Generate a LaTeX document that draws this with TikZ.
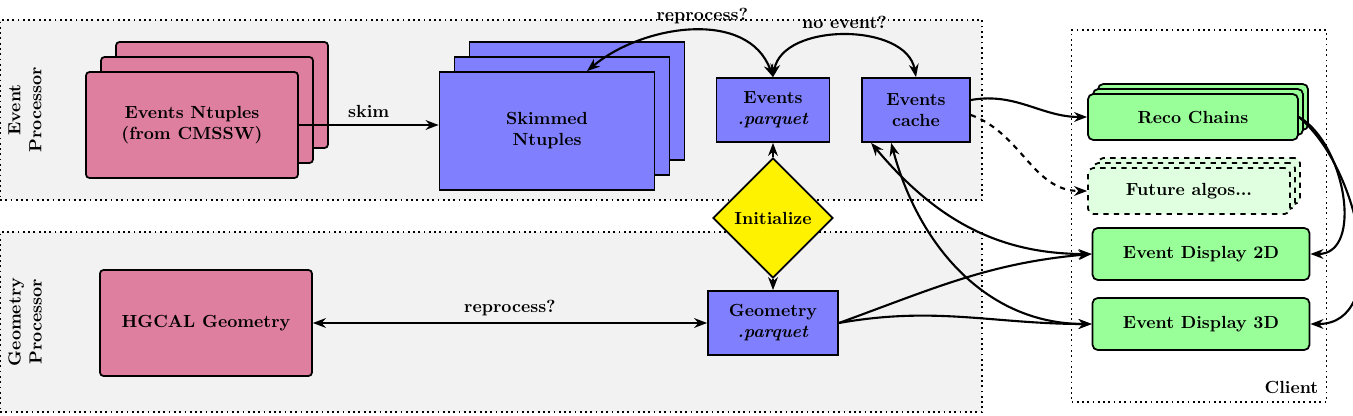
\documentclass[tikz,border=0pt]{standalone}
\usepackage{tikz}
\usetikzlibrary{arrows.meta, positioning, shapes.geometric, shadows}
\definecolor{pinkbox}{HTML}{DF7F9F}
\definecolor{bluebox}{HTML}{8080FF}
\definecolor{greenbox}{HTML}{99FF99}
\definecolor{greenlight}{HTML}{E0FFE0}
\definecolor{areagray}{HTML}{F2F2F2}
\begin{document}
\begin{tikzpicture}[
    >={Stealth[length=2.6mm]}, line width=1pt,
    area/.style={draw, dotted, fill=areagray},
    source/.style={draw, rounded corners=2pt, fill=pinkbox, font=\bfseries, align=center},
    data/.style={draw, fill=bluebox, font=\bfseries, align=center},
    client/.style={draw, rounded corners=3pt, fill=greenbox, font=\bfseries, align=center},
    link/.style={->, line width=1.2pt}
]
\useasboundingbox (0,0) rectangle (27.06,-8.32);

% areas
\node[area, minimum width=19.64cm, minimum height=3.6cm] (evarea) at (9.82,-2.2) {};
\node[area, minimum width=19.64cm, minimum height=3.6cm] (geoarea) at (9.82,-6.44) {};
\node[area, fill=white, minimum width=5.1cm, minimum height=7.44cm] (clarea) at (23.98,-4.32) {};
\node[rotate=90, font=\bfseries, align=center] (evlabel) at (0.5,-2.2) {Event\\Processor};
\node[rotate=90, font=\bfseries, align=center] (geolabel) at (0.5,-6.44) {Geometry\\Processor};
\node[font=\bfseries, anchor=south east] (cllabel) at (26.5,-8.0) {Client};

% event processor
\node[source, minimum width=4.24cm, minimum height=2.12cm,
      double copy shadow={shadow xshift=0.3cm, shadow yshift=0.3cm, fill=pinkbox, draw}]
      (ntuples) at (3.84,-2.5) {Events Ntuples\\(from CMSSW)};
\node[data, minimum width=4.3cm, minimum height=2.36cm,
      double copy shadow={shadow xshift=0.3cm, shadow yshift=0.3cm, fill=bluebox, draw}]
      (skimmed) at (10.94,-2.62) {Skimmed\\Ntuples};
\node[data, minimum width=2.26cm, minimum height=1.28cm] (evparquet) at (15.46,-2.2) {Events\\\textit{.parquet}};
\node[data, minimum width=2.16cm, minimum height=1.28cm] (evcache) at (18.32,-2.2) {Events\\cache};
\node[diamond, draw, fill=yellow, font=\bfseries, inner sep=1pt, minimum size=2.4cm] (init) at (15.46,-4.36) {Initialize};

% geometry processor
\node[source, minimum width=4.24cm, minimum height=2.12cm] (hgcal) at (4.12,-6.46) {HGCAL Geometry};
\node[data, minimum width=2.6cm, minimum height=1.28cm] (geoparquet) at (15.46,-6.46) {Geometry\\\textit{.parquet}};

% client
\node[client, minimum width=4.2cm, minimum height=0.92cm,
      double copy shadow={shadow xshift=0.1cm, shadow yshift=0.1cm, fill=greenbox, draw}]
      (reco) at (23.86,-2.34) {Reco Chains};
\node[client, dashed, fill=greenlight, minimum width=4.04cm, minimum height=0.92cm,
      double copy shadow={shadow xshift=0.1cm, shadow yshift=0.1cm, fill=greenlight, draw, dashed}]
      (future) at (23.78,-3.82) {Future algos...};
\node[client, minimum width=4.34cm, minimum height=1.04cm] (disp2d) at (24.02,-5.08) {Event Display 2D};
\node[client, minimum width=4.34cm, minimum height=1.04cm] (disp3d) at (24.02,-6.48) {Event Display 3D};

% connectors
\draw[link] (ntuples) -- node[above] {\bfseries skim} (skimmed.west |- ntuples);
\draw[link, <->] (evparquet.north) to[out=110, in=40] node[pos=0.45, above] {\bfseries reprocess?} ([xshift=8mm]skimmed.north);
\draw[link, <->] (evparquet.north) to[out=80, in=100] node[above] {\bfseries no event?} (evcache.north);
\draw[link] (init) -- (evparquet);
\draw[link] (init) -- (geoparquet);
\draw[link, <->] (hgcal) -- node[above] {\bfseries reprocess?} (geoparquet);
\draw[link] ([yshift=2mm]evcache.east) to[out=10, in=180] (reco.west);
\draw[link, dashed] ([yshift=-1mm]evcache.east) to[out=-20, in=180] (future.west);
\draw[link, <->] ([xshift=2mm]evcache.south west) to[out=-50, in=180] (disp2d.west);
\draw[link, <->] ([xshift=6mm]evcache.south west) to[out=-75, in=180] (disp3d.west);
\draw[link] (geoparquet.east) to[out=20, in=185] (disp2d.west);
\draw[link] (geoparquet.east) to[out=10, in=180] (disp3d.west);
\draw[link] (reco.east) to[out=-30, in=0] (disp2d.east);
\draw[link] (reco.east) to[out=-40, in=0] (disp3d.east);
\end{tikzpicture}
\end{document}
